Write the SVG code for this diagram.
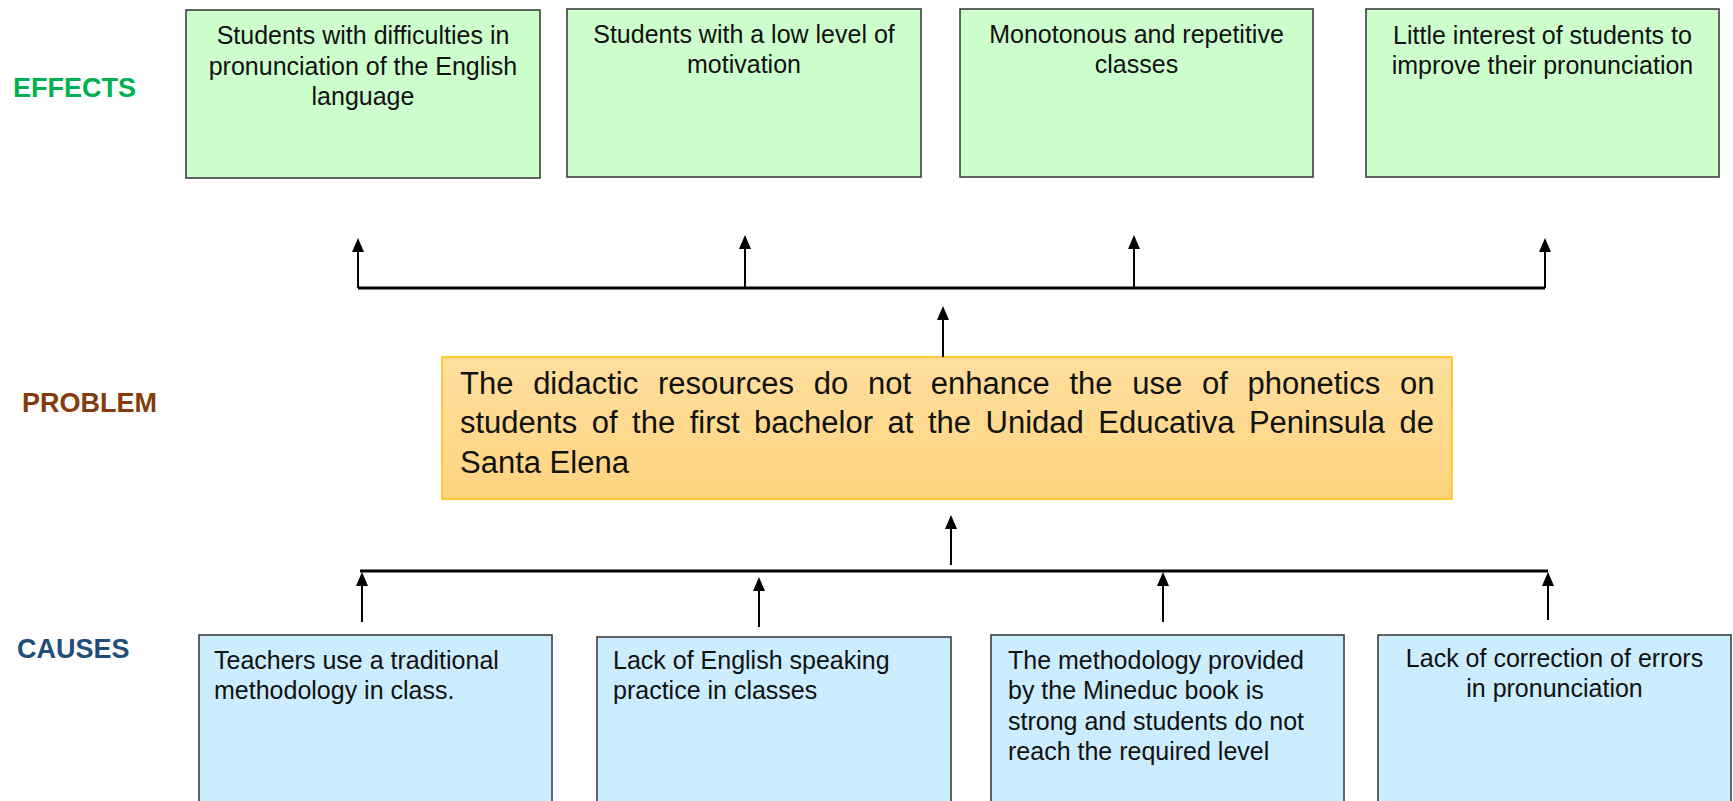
<svg xmlns="http://www.w3.org/2000/svg" width="1733" height="801" viewBox="0 0 1733 801">
<style>
.lbl{font-family:"Liberation Sans",Arial,sans-serif;font-weight:bold;font-size:27px}
.t{font-family:"Liberation Sans",Arial,sans-serif;font-size:25px;fill:#111}
.c{text-anchor:middle}
.eff{fill:#CCFFCC;stroke:#333;stroke-width:1.5}
.cau{fill:#CCECFF;stroke:#333;stroke-width:1.5}
.pt{font-family:"Liberation Sans",Arial,sans-serif;font-size:31px;fill:#111}
.bar{stroke:#000;stroke-width:3;fill:none}
.arr{stroke:#000;stroke-width:2;fill:none;marker-end:url(#ah)}
</style>
<defs>
<marker id="ah" viewBox="0 0 14 12" refX="6" refY="6" markerWidth="14" markerHeight="12" markerUnits="userSpaceOnUse" orient="auto">
<path d="M0,0 L14,6 L0,12 z" fill="#000"/>
</marker>
<linearGradient id="pg" x1="0" y1="0" x2="0" y2="1">
<stop offset="0" stop-color="#FFDF9E"/>
<stop offset="1" stop-color="#FFD47F"/>
</linearGradient>
</defs>
<rect width="1733" height="801" fill="#fff"/>

<text class="lbl" x="13" y="97" fill="#00B050">EFFECTS</text>
<text class="lbl" x="22" y="412" fill="#843C0C">PROBLEM</text>
<text class="lbl" x="17" y="658" fill="#1F4E79">CAUSES</text>

<g id="effect1">
<rect class="eff" x="186" y="10" width="354" height="168"/>
<text class="t c" x="363" y="44">Students with difficulties in</text>
<text class="t c" x="363" y="75">pronunciation of the English</text>
<text class="t c" x="363" y="105">language</text>
</g>
<g id="effect2">
<rect class="eff" x="567" y="9" width="354" height="168"/>
<text class="t c" x="744" y="43">Students with a low level of</text>
<text class="t c" x="744" y="73">motivation</text>
</g>
<g id="effect3">
<rect class="eff" x="960" y="9" width="353" height="168"/>
<text class="t c" x="1136.5" y="43">Monotonous and repetitive</text>
<text class="t c" x="1136.5" y="73">classes</text>
</g>
<g id="effect4">
<rect class="eff" x="1366" y="9" width="353" height="168"/>
<text class="t c" x="1542.5" y="44">Little interest of students to</text>
<text class="t c" x="1542.5" y="74">improve their pronunciation</text>
</g>

<g id="problem">
<rect x="442" y="357" width="1010" height="142" fill="url(#pg)" stroke="#FFC000" stroke-width="1.5"/>
<text class="pt" x="460" y="394" word-spacing="11.1">The didactic resources do not enhance the use of phonetics on</text>
<text class="pt" x="460" y="433" word-spacing="5.9">students of the first bachelor at the Unidad Educativa Peninsula de</text>
<text class="pt" x="460" y="473">Santa Elena</text>
</g>

<g id="cause1">
<rect class="cau" x="199" y="635" width="353" height="180"/>
<text class="t" x="214" y="669">Teachers use a traditional</text>
<text class="t" x="214" y="699">methodology in class.</text>
</g>
<g id="cause2">
<rect class="cau" x="597" y="637" width="354" height="180"/>
<text class="t" x="613" y="669">Lack of English speaking</text>
<text class="t" x="613" y="699">practice in classes</text>
</g>
<g id="cause3">
<rect class="cau" x="991" y="635" width="353" height="180"/>
<text class="t" x="1008" y="669">The methodology provided</text>
<text class="t" x="1008" y="699">by the Mineduc book is</text>
<text class="t" x="1008" y="730">strong and students do not</text>
<text class="t" x="1008" y="760">reach the required level</text>
</g>
<g id="cause4">
<rect class="cau" x="1378" y="635" width="353" height="180"/>
<text class="t c" x="1554.5" y="667">Lack of correction of errors</text>
<text class="t c" x="1554.5" y="697">in pronunciation</text>
</g>

<g id="connectors">
<line class="bar" x1="358" y1="288" x2="1545" y2="288"/>
<line class="arr" x1="358" y1="288" x2="358" y2="246"/>
<line class="arr" x1="745" y1="288" x2="745" y2="243"/>
<line class="arr" x1="1134" y1="288" x2="1134" y2="243"/>
<line class="arr" x1="1545" y1="288" x2="1545" y2="246"/>
<line class="arr" x1="943" y1="357" x2="943" y2="314"/>
<line class="bar" x1="360" y1="571" x2="1548" y2="571"/>
<line class="arr" x1="362" y1="622" x2="362" y2="580"/>
<line class="arr" x1="759" y1="627" x2="759" y2="585"/>
<line class="arr" x1="1163" y1="622" x2="1163" y2="580"/>
<line class="arr" x1="1548" y1="620" x2="1548" y2="580"/>
<line class="arr" x1="951" y1="565" x2="951" y2="523"/>
</g>
</svg>
